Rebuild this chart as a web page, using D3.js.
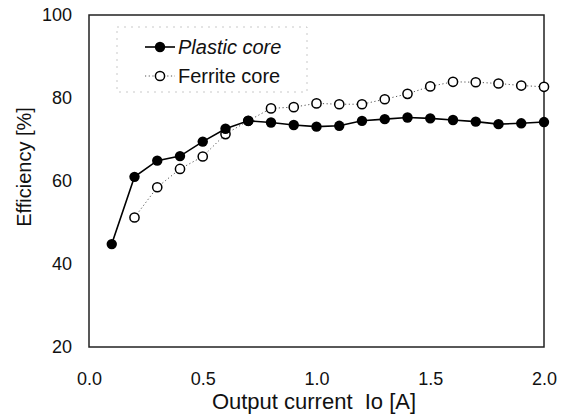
<!DOCTYPE html>
<html>
<head>
<meta charset="utf-8">
<script src="https://cdn.jsdelivr.net/npm/d3@7/dist/d3.min.js"></script>
<style>
  html, body { margin: 0; padding: 0; background: #fff; }
  svg { display: block; font-family: "Liberation Sans", Arial, Helvetica, sans-serif; }
</style>
</head>
<body>
<svg id="chart" width="567" height="418"></svg>
<script>
// Output current (A) for each measurement
const plasticCurrent = [0.1, 0.2, 0.3, 0.4, 0.5, 0.6, 0.7, 0.8, 0.9, 1.0,
                        1.1, 1.2, 1.3, 1.4, 1.5, 1.6, 1.7, 1.8, 1.9, 2.0];
const ferriteCurrent = [0.2, 0.3, 0.4, 0.5, 0.6, 0.7, 0.8, 0.9, 1.0,
                        1.1, 1.2, 1.3, 1.4, 1.5, 1.6, 1.7, 1.8, 1.9, 2.0];
// Efficiency (%) for each core type
const plasticEff = [44.8, 61.0, 64.9, 66.0, 69.5, 72.6, 74.5, 74.1, 73.5, 73.1,
                    73.3, 74.5, 74.9, 75.3, 75.1, 74.7, 74.3, 73.7, 73.9, 74.2];
const ferriteEff = [51.2, 58.5, 62.9, 65.9, 71.3, 74.5, 77.5, 77.8, 78.7,
                    78.5, 78.5, 79.7, 81.0, 82.8, 83.9, 83.8, 83.5, 83.0, 82.7];
// Axis ticks
const xTicks = [0, 0.5, 1.0, 1.5, 2.0];
const yTicks = [20, 40, 60, 80, 100];
const seriesNames = ["Plastic core", "Ferrite core"];

const svg = d3.select("#chart");
const plot = { left: 89, right: 544, top: 15, bottom: 347 };

const x = d3.scaleLinear().domain([0, 2]).range([plot.left, plot.right]);
const y = d3.scaleLinear().domain([20, 100]).range([plot.bottom, plot.top]);

// Tick labels
const yAxis = svg.append("g")
  .attr("transform", `translate(${plot.left},0)`)
  .call(d3.axisLeft(y).tickValues(yTicks).tickSize(0).tickPadding(17).tickFormat(d3.format("d")));
const xAxis = svg.append("g")
  .attr("transform", `translate(0,${plot.bottom})`)
  .call(d3.axisBottom(x).tickValues(xTicks).tickSize(0).tickPadding(25).tickFormat(d3.format(".1f")));
[yAxis, xAxis].forEach(g => {
  g.select(".domain").remove();
  g.selectAll("text").attr("font-size", 18).attr("fill", "#111")
    .attr("font-family", "'Liberation Sans', Arial, sans-serif");
});

// Plot frame
svg.append("rect")
  .attr("x", plot.left).attr("y", plot.top)
  .attr("width", plot.right - plot.left).attr("height", plot.bottom - plot.top)
  .attr("fill", "none").attr("stroke", "#222").attr("stroke-width", 1.5);

// Axis titles
svg.append("text")
  .attr("x", 314).attr("y", 409)
  .attr("text-anchor", "middle").attr("font-size", 22).attr("fill", "#111")
  .attr("xml:space", "preserve")
  .text("Output current  Io [A]");
svg.append("text")
  .attr("transform", "translate(31,167) rotate(-90)")
  .attr("text-anchor", "middle").attr("font-size", 20).attr("fill", "#111")
  .text("Efficiency [%]");

// Legend frame (faint dotted)
const legendBox = { x0: 117, x1: 307, y0: 27, y1: 92 };
svg.append("rect")
  .attr("x", legendBox.x0).attr("y", legendBox.y0)
  .attr("width", legendBox.x1 - legendBox.x0).attr("height", legendBox.y1 - legendBox.y0)
  .attr("fill", "none").attr("stroke", "#bbb").attr("stroke-width", 0.8)
  .attr("stroke-dasharray", "2,5");

const line = d3.line().x(d => x(d[0])).y(d => y(d[1]));
const plasticPts = plasticCurrent.map((c, i) => [c, plasticEff[i]]);
const ferritePts = ferriteCurrent.map((c, i) => [c, ferriteEff[i]]);

// Ferrite core: dotted line, open markers
svg.append("path").datum(ferritePts)
  .attr("d", line).attr("fill", "none")
  .attr("stroke", "#555").attr("stroke-width", 1).attr("stroke-dasharray", "1.2,2.5");

// Plastic core: solid line, filled markers
svg.append("path").datum(plasticPts)
  .attr("d", line).attr("fill", "none")
  .attr("stroke", "#000").attr("stroke-width", 1.6);

svg.append("g").selectAll("circle").data(ferritePts).join("circle")
  .attr("cx", d => x(d[0])).attr("cy", d => y(d[1])).attr("r", 4.6)
  .attr("fill", "#fff").attr("stroke", "#000").attr("stroke-width", 1.5);

svg.append("g").selectAll("circle").data(plasticPts).join("circle")
  .attr("cx", d => x(d[0])).attr("cy", d => y(d[1])).attr("r", 5.2)
  .attr("fill", "#000");

// Legend entries
const legend = svg.append("g");
const rows = [
  { name: seriesNames[0], y: 47, filled: true },
  { name: seriesNames[1], y: 76, filled: false }
];
rows.forEach(r => {
  legend.append("line")
    .attr("x1", 145).attr("x2", 175).attr("y1", r.y).attr("y2", r.y)
    .attr("stroke", r.filled ? "#000" : "#555")
    .attr("stroke-width", r.filled ? 1.6 : 1)
    .attr("stroke-dasharray", r.filled ? null : "1.2,2.5");
  legend.append("circle")
    .attr("cx", 160).attr("cy", r.y).attr("r", r.filled ? 5.2 : 4.6)
    .attr("fill", r.filled ? "#000" : "#fff")
    .attr("stroke", "#000").attr("stroke-width", r.filled ? 0 : 1.5);
  legend.append("text")
    .attr("x", 178).attr("y", r.y + 7)
    .attr("font-size", 20).attr("fill", "#111")
    .attr("font-style", r.filled ? "italic" : "normal")
    .text(r.name);
});
</script>
</body>
</html>
